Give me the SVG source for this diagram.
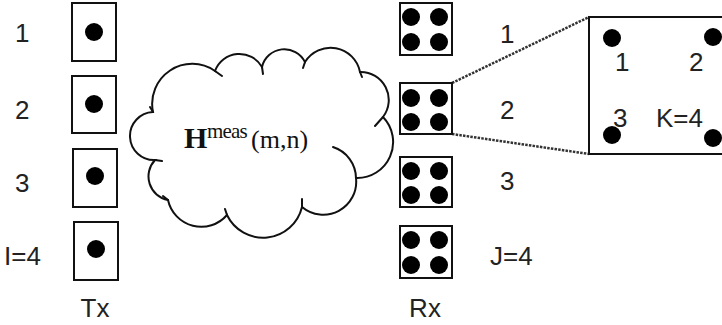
<svg xmlns="http://www.w3.org/2000/svg" width="722" height="325" viewBox="0 0 722 325">
<style>
.box{fill:#fff;stroke:#111;stroke-width:2}
.dot{fill:#000}
.lbl{font-family:"Liberation Sans",Arial,sans-serif;font-size:26px;fill:#222}
.cl{fill:none;stroke:#111;stroke-width:2;stroke-linecap:round}
.dl{stroke:#333;stroke-width:2.5;stroke-dasharray:2.5 1.2;fill:none}
</style>
<rect width="722" height="325" fill="#fff"/>
<g id="connectors">
<line class="dl" x1="452" y1="83" x2="589" y2="17"/>
<line class="dl" x1="452" y1="134" x2="589" y2="154"/>
</g>
<g id="cloud">
<path d="M153,112 A40,40 0 0 1 215,71 A26,26 0 0 1 262,67 A23,23 0 0 1 305,62 A30,30 0 0 1 360,72 A28,28 0 0 1 383,117 A36,36 0 0 1 356,178 A33,33 0 0 1 302,207 A40,40 0 0 1 227,215 A34,34 0 0 1 168,200 A24,24 0 0 1 155,160 A24,24 0 0 1 153,112 Z" fill="#fff" stroke="#111" stroke-width="2"/>
<path class="cl" d="M215,71 L222,76 M262,67 L263,74 M305,62 L303,68 M360,72 L362,77 M383,117 L375,126 M155,160 L162,161 M227,215 L225,209 M302,207 L302,199 M168,200 L163,196 M153,112 L150,107"/>
<path class="cl" d="M333,147 A33,33 0 0 1 356,178"/>
<text x="184" y="148" font-family="Liberation Serif,Times New Roman,serif" font-size="30" fill="#111"><tspan font-weight="bold">H</tspan><tspan x="207" y="138" font-size="21" letter-spacing="-0.8">meas</tspan><tspan x="251" y="148" font-size="26">(m,n)</tspan></text>
</g>
<g id="tx1"><rect class="box" x="72" y="3" width="44" height="58"/><circle class="dot" cx="94" cy="32" r="9"/><text class="lbl" x="15" y="42">1</text></g>
<g id="tx2"><rect class="box" x="72" y="76" width="44" height="57"/><circle class="dot" cx="94" cy="104" r="9"/><text class="lbl" x="15" y="119">2</text></g>
<g id="tx3"><rect class="box" x="73" y="149" width="44" height="58"/><circle class="dot" cx="95" cy="176" r="9"/><text class="lbl" x="15" y="192">3</text></g>
<g id="tx4"><rect class="box" x="74" y="222" width="44" height="58"/><circle class="dot" cx="96" cy="249" r="9"/><text class="lbl" x="4" y="265">I=4</text></g>
<text class="lbl" x="95" y="317" text-anchor="middle">Tx</text>
<g id="rx1"><rect class="box" x="400" y="3" width="52" height="52"/><circle class="dot" cx="411" cy="17" r="9"/><circle class="dot" cx="439" cy="17" r="9"/><circle class="dot" cx="411" cy="42" r="9"/><circle class="dot" cx="439" cy="42" r="9"/><text class="lbl" x="500" y="43">1</text></g>
<g id="rx2"><rect class="box" x="400" y="83" width="52" height="51"/><circle class="dot" cx="411" cy="98" r="9"/><circle class="dot" cx="439" cy="98" r="9"/><circle class="dot" cx="411" cy="122" r="9"/><circle class="dot" cx="439" cy="122" r="9"/><text class="lbl" x="500" y="119">2</text></g>
<g id="rx3"><rect class="box" x="400" y="157" width="52" height="50"/><circle class="dot" cx="411" cy="171" r="9"/><circle class="dot" cx="439" cy="171" r="9"/><circle class="dot" cx="411" cy="195" r="9"/><circle class="dot" cx="439" cy="195" r="9"/><text class="lbl" x="500" y="190">3</text></g>
<g id="rx4"><rect class="box" x="400" y="226" width="52" height="52"/><circle class="dot" cx="411" cy="240" r="9"/><circle class="dot" cx="439" cy="240" r="9"/><circle class="dot" cx="411" cy="265" r="9"/><circle class="dot" cx="439" cy="265" r="9"/><text class="lbl" x="490" y="265">J=4</text></g>
<text class="lbl" x="425" y="317" text-anchor="middle">Rx</text>
<g id="zoom"><rect class="box" x="589" y="17" width="160" height="137"/><circle class="dot" cx="612" cy="38" r="9"/><circle class="dot" cx="713" cy="37" r="9"/><circle class="dot" cx="612" cy="135" r="9"/><circle class="dot" cx="713" cy="138" r="9"/><text class="lbl" x="615" y="71">1</text><text class="lbl" x="689" y="71">2</text><text class="lbl" x="613" y="127">3</text><text class="lbl" x="656" y="127">K=4</text></g>
</svg>
